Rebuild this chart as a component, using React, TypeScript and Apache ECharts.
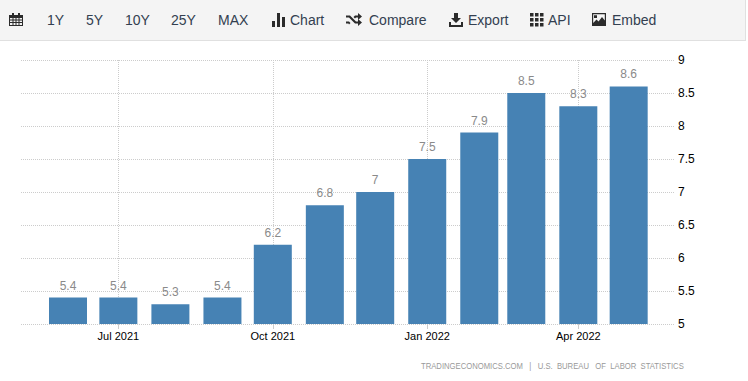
import React, { useEffect, useRef } from "react";
import * as echarts from "echarts";

const months = ["2021-06", "2021-07", "2021-08", "2021-09", "2021-10", "2021-11", "2021-12", "2022-01", "2022-02", "2022-03", "2022-04", "2022-05"];
const inflation = [5.4, 5.4, 5.3, 5.4, 6.2, 6.8, 7, 7.5, 7.9, 8.5, 8.3, 8.6];
const tickMonths = ["2021-07", "2021-10", "2022-01", "2022-04"];
const tickLabels = ["Jul 2021", "Oct 2021", "Jan 2022", "Apr 2022"];
const toolbarRanges = ["1Y", "5Y", "10Y", "25Y", "MAX"];
const footer = "TRADINGECONOMICS.COM   |   U.S.  BUREAU   OF  LABOR  STATISTICS";

const ts = (m: string) => new Date(m + "-01T00:00:00").getTime();

const icons: Record<string, string> = {
  tcal: "M0 3H3V1H5V3H9V1H11V3H14V14H0ZM1 6V7.5H3.5V6ZM4.5 6V7.5H6.5V6ZM7.5 6V7.5H9.5V6ZM10.5 6V7.5H13V6ZM1 8.5V10H3.5V8.5ZM4.5 8.5V10H6.5V8.5ZM7.5 8.5V10H9.5V8.5ZM10.5 8.5V10H13V8.5ZM1 11V13H3.5V11ZM4.5 11V13H6.5V11ZM7.5 11V13H9.5V11ZM10.5 11V13H13V11Z",
  tbars: "M0 8H3V14H0ZM5 0H8V14H5ZM10 4H13V14H10Z",
  tshuf: "M0 2.5H4L10 8.5H12V6L16 9.5L12 13V10.5H9L3 4.5H0ZM0 8.5H3L4.5 10L3 11.5L2.5 10.5H0ZM9 2.5H12V0L16 3.5L12 7V4.5H10L9 5.5L7.5 4Z",
  tdown: "M5 0H9V5H12L7 10L2 5H5ZM0 9H2V12H12V9H14V14H0Z",
  tgrid: "M0 0H3.5V3.5H0ZM5 0H8.5V3.5H5ZM10 0H13.5V3.5H10ZM0 5H3.5V8.5H0ZM5 5H8.5V8.5H5ZM10 5H13.5V8.5H10ZM0 10H3.5V13.5H0ZM5 10H8.5V13.5H5ZM10 10H13.5V13.5H10Z",
  timg: "M0 0H14V13H0ZM1.2 1.2V10L4.5 6.5L6.5 8.5L10 4L12.8 7.5V1.2ZM2 2.2H5V5H2Z",
};
Object.entries(icons).forEach(([name, d]) => {
  echarts.graphic.registerShape(name, echarts.graphic.extendPath(d as any, {}) as any);
});

const barColor = "#4682b4";
const toolText = "#333f50";

export default function App() {
  const ref = useRef<HTMLDivElement>(null);
  useEffect(() => {
    const chart = echarts.init(ref.current!, null, { renderer: "svg" });
    const rangeX = [47, 86, 125, 171, 218];
    const tool = (text: string, x: number) => ({
      type: "text", x, y: 13,
      style: { text, font: '14px "Liberation Sans", Arial, sans-serif', fill: toolText },
    });
    const icon = (type: string, x: number, y: number) => ({
      type, x, y, style: { fill: "#2b2b2b" },
    });
    const tickValues = tickMonths.map(ts);
    chart.setOption({
      animation: false,
      backgroundColor: "#ffffff",
      grid: { left: 21, right: 74, top: 60, bottom: 57, containLabel: false },
      xAxis: {
        type: "value",
        scale: true,
        min: new Date(2021, 4, 4).getTime(),
        max: new Date(2022, 4, 28).getTime(),
        axisLine: { show: false },
        axisTick: { show: true, length: 5, customValues: tickValues, lineStyle: { color: "#cccccc" } },
        splitLine: { show: true, showMinLine: true, showMaxLine: true, lineStyle: { color: "#cccccc", type: "dotted", width: 1 } },
        axisLabel: {
          customValues: tickValues,
          hideOverlap: false,
          color: "#000000",
          fontSize: 11,
          fontFamily: '"Liberation Sans", Arial, sans-serif',
          margin: 6,
          formatter: (v: number) => tickLabels[tickValues.indexOf(v)] ?? "",
        },
      },
      yAxis: {
        type: "value",
        position: "right",
        min: 5,
        max: 9,
        interval: 0.5,
        axisLine: { show: false },
        axisTick: { show: false },
        splitLine: { show: true, lineStyle: { color: "#cccccc", type: "dotted", width: 1 } },
        axisLabel: {
          color: "#000000",
          fontSize: 12,
          fontFamily: '"Liberation Sans", Arial, sans-serif',
          margin: 4,
        },
      },
      series: [
        {
          type: "bar",
          barWidth: 38,
          itemStyle: { color: barColor },
          data: months.map((m, i) => [ts(m), inflation[i]]),
          label: {
            show: true,
            position: "top",
            distance: 6,
            color: "#8a8a8a",
            fontSize: 12,
            fontFamily: '"Liberation Sans", Arial, sans-serif',
            formatter: (p: any) => String(p.value[1]),
          },
        },
      ],
      graphic: [
        { type: "rect", shape: { x: 0, y: 0, width: 745, height: 40 }, style: { fill: "#f4f4f4" } },
        { type: "rect", shape: { x: 0, y: 40, width: 746, height: 1 }, style: { fill: "#e0e0e0" } },
        { type: "rect", shape: { x: 745, y: 0, width: 1, height: 41 }, style: { fill: "#e0e0e0" } },
        icon("tcal", 9, 12),
        ...toolbarRanges.map((t, i) => tool(t, rangeX[i])),
        icon("tbars", 272, 13),
        tool("Chart", 290),
        icon("tshuf", 346, 13),
        tool("Compare", 369),
        icon("tdown", 449, 13),
        tool("Export", 468),
        icon("tgrid", 530, 13),
        tool("API", 548),
        icon("timg", 592, 13),
        tool("Embed", 612),
        {
          type: "text", x: 421, y: 361, scaleX: 0.81,
          style: { text: footer, font: '9.5px "Liberation Sans", Arial, sans-serif', fill: "#999999" },
        },
      ],
    });
    return () => chart.dispose();
  }, []);
  return <div ref={ref} style={{ position: "absolute", left: 0, top: 0, width: 748, height: 381 }} />;
}
